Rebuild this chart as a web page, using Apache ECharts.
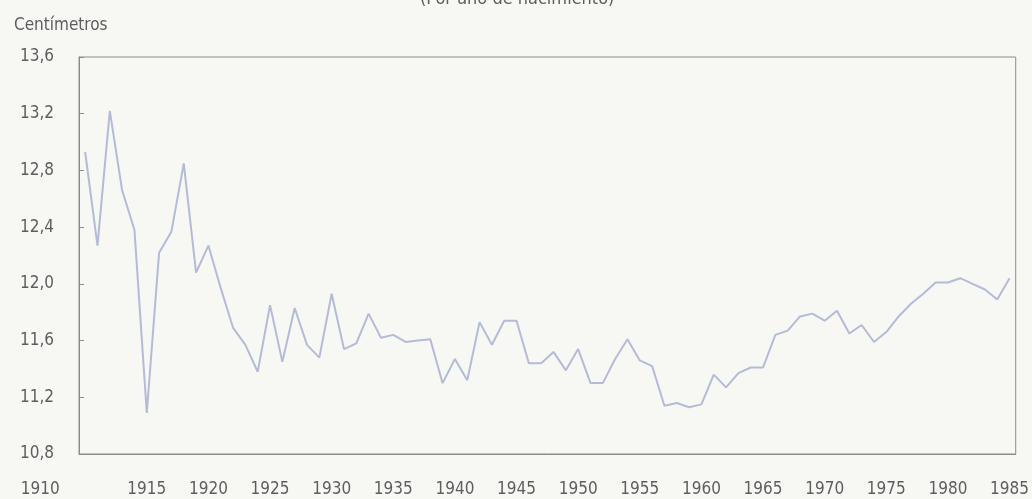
<!DOCTYPE html>
<html>
<head>
<meta charset="utf-8">
<script src="https://cdn.jsdelivr.net/npm/echarts@6/dist/echarts.min.js"></script>
<style>
html,body{margin:0;padding:0;background:#f7f8f4;}
#chart{width:1032px;height:499px;}
</style>
</head>
<body>
<div id="chart"></div>
<script>
const years = ['1910','1911','1912','1913','1914','1915','1916','1917','1918','1919',
  '1920','1921','1922','1923','1924','1925','1926','1927','1928','1929',
  '1930','1931','1932','1933','1934','1935','1936','1937','1938','1939',
  '1940','1941','1942','1943','1944','1945','1946','1947','1948','1949',
  '1950','1951','1952','1953','1954','1955','1956','1957','1958','1959',
  '1960','1961','1962','1963','1964','1965','1966','1967','1968','1969',
  '1970','1971','1972','1973','1974','1975','1976','1977','1978','1979',
  '1980','1981','1982','1983','1984','1985'];
const values = [12.93,12.27,13.22,12.66,12.38,11.09,12.22,12.37,12.85,12.08,
  12.27,11.97,11.69,11.57,11.38,11.85,11.45,11.83,11.57,11.48,
  11.93,11.54,11.58,11.79,11.62,11.64,11.59,11.60,11.61,11.30,
  11.47,11.32,11.73,11.57,11.74,11.74,11.44,11.44,11.52,11.39,
  11.54,11.30,11.30,11.47,11.61,11.46,11.42,11.14,11.16,11.13,
  11.15,11.36,11.27,11.37,11.41,11.41,11.64,11.67,11.77,11.79,
  11.74,11.81,11.65,11.71,11.59,11.66,11.77,11.86,11.93,12.01,
  12.01,12.04,12.00,11.96,11.89,12.04];
const subtitleText = '(Por año de nacimiento)';
const unitText = 'Centímetros';
const yMin = 10.8, yMax = 13.6, yStep = 0.4;

const FONT = '"DejaVu Sans Condensed", "DejaVu Sans", sans-serif';
const TXT = '#5e5e5e';
const AX = '#8c8c8c';

const chart = echarts.init(document.getElementById('chart'));
chart.setOption({
  backgroundColor: '#f7f8f4',
  animation: false,
  title: [
    { text: subtitleText, left: 415, top: -15,
      textStyle: { fontFamily: FONT, fontSize: 18, fontWeight: 'normal', color: TXT } },
    { text: unitText, left: 9, top: 12,
      textStyle: { fontFamily: FONT, fontSize: 17, fontWeight: 'normal', color: TXT } }
  ],
  grid: { left: 79, right: 16, top: 57, bottom: 45, show: true,
          borderColor: AX, borderWidth: 1, backgroundColor: 'transparent' },
  xAxis: {
    type: 'category',
    data: years,
    boundaryGap: true,
    axisLine: { lineStyle: { color: AX, width: 1 } },
    axisTick: { inside: true, length: 4, interval: 4, lineStyle: { color: AX } },
    axisLabel: {
      interval: 4, margin: 27, fontFamily: FONT, fontSize: 17, color: TXT,
      formatter: function (v) { return v === '1910' ? '{f|' + v + '}' : v; },
      rich: { f: { fontFamily: FONT, fontSize: 17, color: TXT, padding: [0, 90, 0, 0] } }
    },
    splitLine: { show: false }
  },
  yAxis: {
    type: 'value',
    min: yMin, max: yMax, interval: yStep,
    axisLine: { show: true, lineStyle: { color: AX, width: 1 } },
    axisTick: { show: true, inside: true, length: 5, lineStyle: { color: AX } },
    axisLabel: {
      margin: 25, fontFamily: FONT, fontSize: 17, color: TXT,
      formatter: function (v) { return v.toFixed(1).replace('.', ','); }
    },
    splitLine: { show: false }
  },
  series: [{
    type: 'line',
    data: values,
    symbol: 'none',
    lineStyle: { color: '#b4bbd6', width: 2 }
  }]
});
</script>
</body>
</html>
